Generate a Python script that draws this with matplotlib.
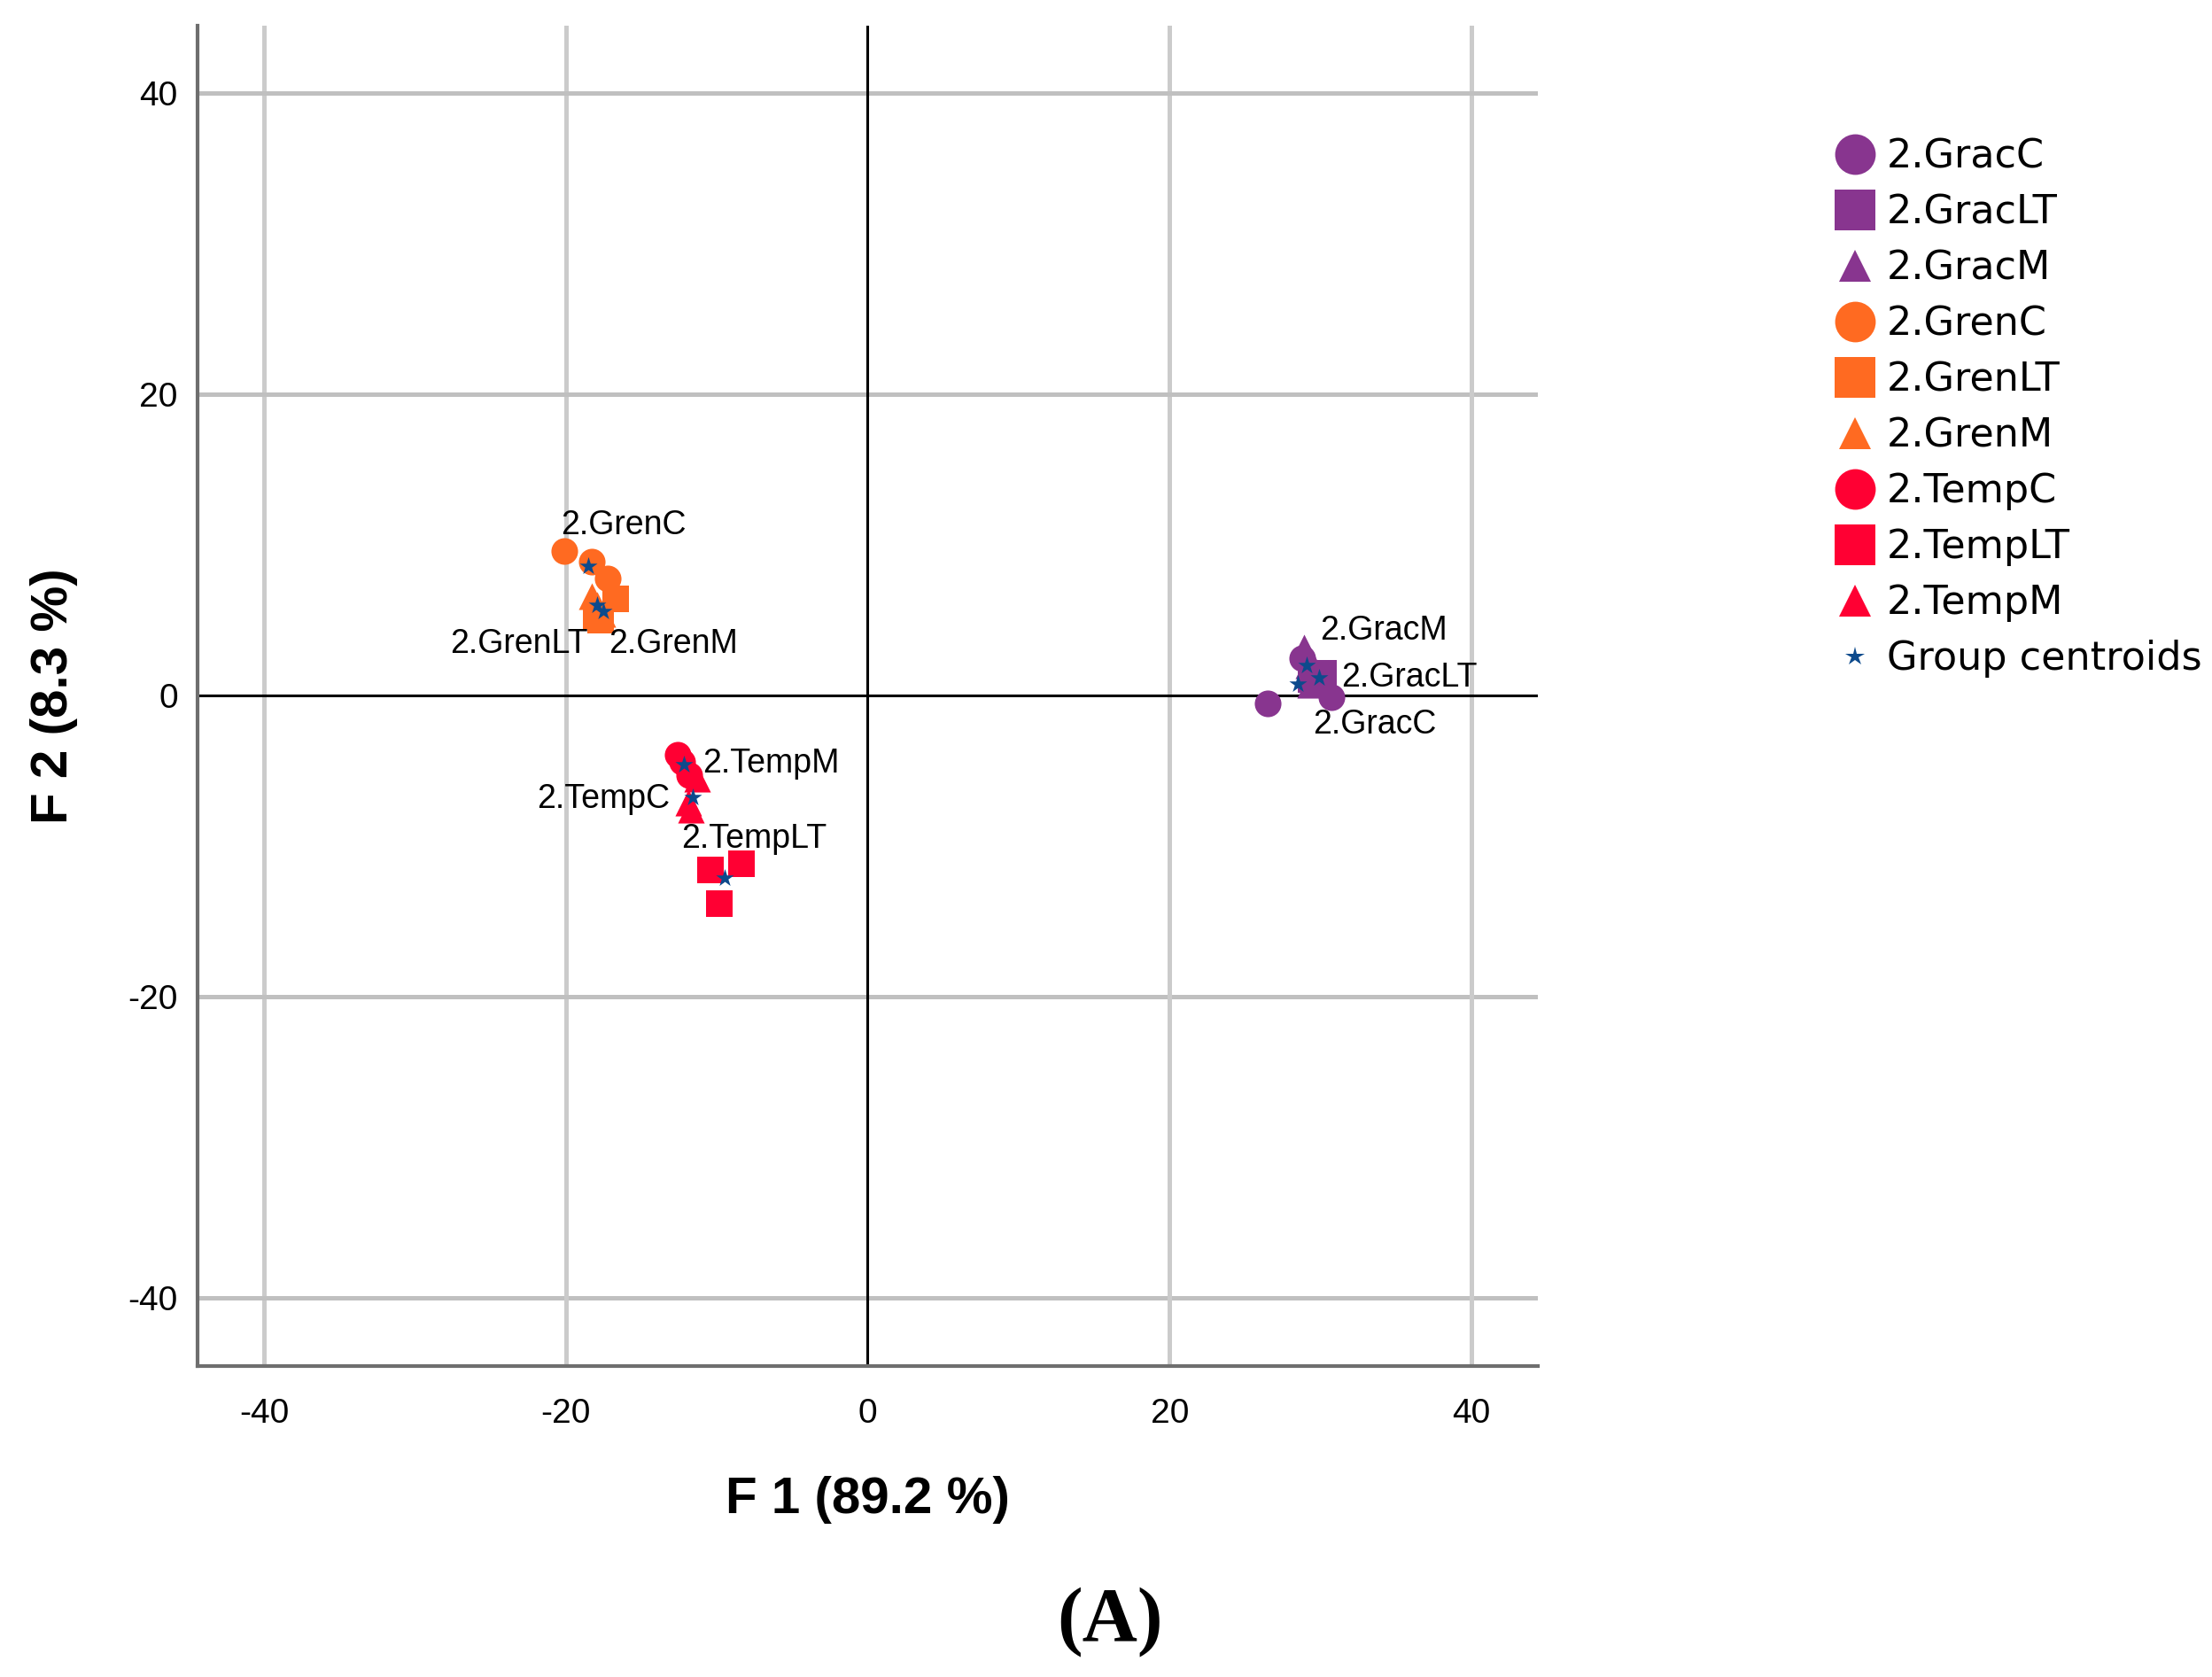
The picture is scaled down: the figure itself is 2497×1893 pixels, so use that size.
import numpy as np
import matplotlib
matplotlib.use("Agg")
import matplotlib.pyplot as plt
from matplotlib.lines import Line2D

groups = ["2.GracC", "2.GracLT", "2.GracM",
          "2.GrenC", "2.GrenLT", "2.GrenM",
          "2.TempC", "2.TempLT", "2.TempM"]

grac_c_x = [26.5, 30.7, 28.8]
grac_c_y = [-0.5, -0.1, 2.5]
grac_lt_x = [30.2, 29.4, 30.1]
grac_lt_y = [1.5, 1.1, 1.0]
grac_m_x = [28.9, 29.2, 29.3]
grac_m_y = [3.2, 2.0, 0.7]

gren_c_x = [-20.1, -18.3, -17.2]
gren_c_y = [9.6, 8.9, 7.8]
gren_lt_x = [-16.7, -17.7, -18.0]
gren_lt_y = [6.4, 5.0, 5.3]
gren_m_x = [-18.3, -17.9, -17.6]
gren_m_y = [6.6, 6.0, 5.4]

temp_c_x = [-12.6, -12.3, -11.8]
temp_c_y = [-3.9, -4.4, -5.3]
temp_lt_x = [-10.4, -8.35, -9.8]
temp_lt_y = [-11.55, -11.15, -13.8]
temp_m_x = [-11.3, -11.9, -11.7]
temp_m_y = [-5.5, -7.1, -7.6]

# group centroids
centroid_x = [28.5, 29.9, 29.1, -18.5, -17.5, -17.9, -12.2, -9.5, -11.6]
centroid_y = [0.8, 1.2, 2.0, 8.6, 5.6, 6.0, -4.6, -12.1, -6.75]

ticks = [-40, -20, 0, 20, 40]

xs = [grac_c_x, grac_lt_x, grac_m_x, gren_c_x, gren_lt_x, gren_m_x,
      temp_c_x, temp_lt_x, temp_m_x]
ys = [grac_c_y, grac_lt_y, grac_m_y, gren_c_y, gren_lt_y, gren_m_y,
      temp_c_y, temp_lt_y, temp_m_y]

purple = "#88358f"
orange = "#ff6a21"
red = "#ff0033"
star_col = "#0d4a8c"
colors = [purple] * 3 + [orange] * 3 + [red] * 3
markers = ["o", "s", "^"] * 3

# where SPSS put the point labels (text centres)
label_pos = {
    "2.GracC": (33.6, -1.9), "2.GracLT": (35.9, 1.2), "2.GracM": (34.2, 4.3),
    "2.GrenC": (-16.2, 11.3), "2.GrenLT": (-23.1, 3.4), "2.GrenM": (-12.9, 3.4),
    "2.TempC": (-17.5, -6.85), "2.TempLT": (-7.5, -9.5), "2.TempM": (-6.4, -4.5),
}

plt.rcParams["font.family"] = ["Liberation Sans", "DejaVu Sans"]
plt.rcParams["axes.unicode_minus"] = False

fig = plt.figure(figsize=(24.97, 18.93), dpi=100)
ax = fig.add_axes([0.0893, 0.1856, 0.6059, 0.7992])

ax.set_xlim(-44.4, 44.4)
ax.set_ylim(-44.5, 44.5)

for t in [-40, -20, 20, 40]:
    ax.axvline(t, color="#cbcbcb", lw=3.6, zorder=0)
    ax.axhline(t, color="#c0c0c0", lw=3.6, zorder=0)
ax.axvline(0, color="black", lw=2.2, zorder=1)
ax.axhline(0, color="black", lw=2.2, zorder=1)

for x, y, c, m in zip(xs, ys, colors, markers):
    ax.scatter(x, y, s=470, c=c, marker=m, linewidths=0, zorder=3)

ax.scatter(centroid_x, centroid_y, s=230, c=star_col, marker="*",
           linewidths=0, zorder=4)

for g in groups:
    lx, ly = label_pos[g]
    ax.text(lx, ly, g, fontsize=27, ha="center", va="center", zorder=5)

ax.set_xticks(ticks)
ax.set_yticks(ticks)
ax.tick_params(length=0, labelsize=28)
ax.tick_params(axis="x", pad=26)
ax.tick_params(axis="y", pad=16)

for s in ["top", "right"]:
    ax.spines[s].set_visible(False)
for s in ["left", "bottom"]:
    ax.spines[s].set_color("#6e6e6e")
    ax.spines[s].set_linewidth(3)

ax.set_xlabel("F 1 (89.2 %)", fontsize=42, fontweight="bold")
ax.set_ylabel("F 2 (8.3 %)", fontsize=42, fontweight="bold")
ax.xaxis.set_label_coords(0.5, -0.1)
ax.yaxis.set_label_coords(-0.107, 0.5)
ax.xaxis.label.set_verticalalignment("center")
ax.yaxis.label.set_verticalalignment("center")

handles = [Line2D([], [], ls="none", marker=m, color=c, markersize=33 if m != "^" else 26,
                  markeredgewidth=0)
           for m, c in zip(markers, colors)]
handles.append(Line2D([], [], ls="none", marker="*", color=star_col,
                      markersize=16, markeredgewidth=0))
fig.legend(handles, groups + ["Group centroids"], loc="upper left",
           bbox_to_anchor=(0.8298, 0.918), frameon=False,
           prop={"family": "DejaVu Sans", "size": 32},
           handlelength=1.0, handletextpad=0.3, labelspacing=0.45,
           borderpad=0, borderaxespad=0)

fig.text(0.502, 0.033, "(A)", fontsize=62, fontweight="bold",
         family=["Liberation Serif", "DejaVu Serif"], ha="center", va="center")

fig.savefig("out.png", dpi=100)
